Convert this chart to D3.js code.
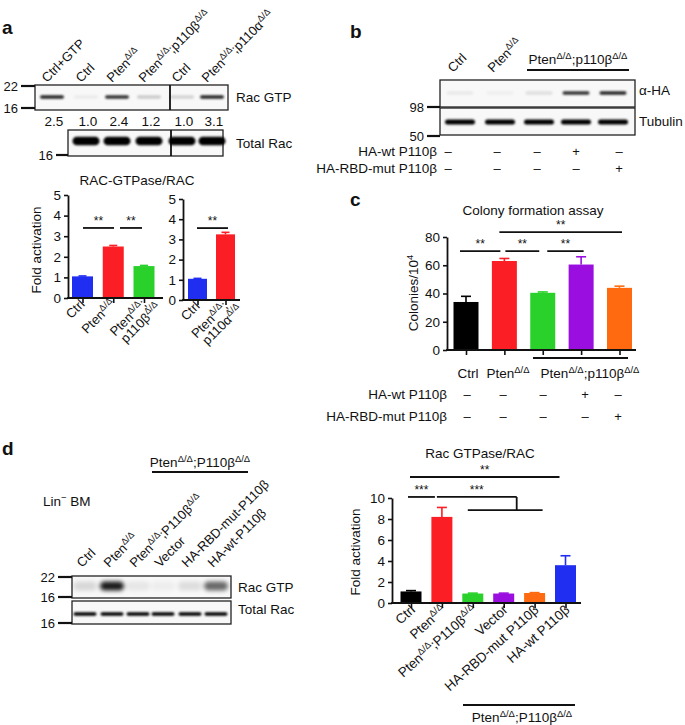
<!DOCTYPE html>
<html><head><meta charset="utf-8">
<script src="https://cdn.jsdelivr.net/npm/d3@7"></script>
<style>
body{margin:0;background:#fff}
svg{display:block}
text{font-family:"Liberation Sans",Arial,Helvetica,sans-serif;fill:#111}
</style>
</head><body>
<svg id="fig" width="685" height="725"></svg>
<script>
// ---------------- DATA ----------------
// Panel a – blot
const aBlotLanes = ["Ctrl+GTP","Ctrl","Pten^{Δ/Δ}","Pten^{Δ/Δ};p110β^{Δ/Δ}","Ctrl","Pten^{Δ/Δ};p110α^{Δ/Δ}"];
const aRacGTP = [0.85,0.05,0.8,0.18,0.15,0.85];
const aRatios = ["2.5","1.0","2.4","1.2","1.0","3.1"];
const aTotalRac = [0,1,1,1,1,1];
// Panel a – bar charts
const aCats1 = ["Ctrl","Pten^{Δ/Δ}","Pten^{Δ/Δ};|p110β^{Δ/Δ}"];
const aVals1 = [1.05,2.5,1.55];
const aErr1 = [0.02,0.05,0.03];
const aCats2 = ["Ctrl","Pten^{Δ/Δ};|p110α^{Δ/Δ}"];
const aVals2 = [1.05,3.25];
const aErr2 = [0.02,0.1];
const aTicks = [0,1,2,3,4,5];
// Panel b – blot
const bLanes = ["Ctrl","Pten^{Δ/Δ}"];
const bHA = [0.06,0.04,0.1,0.8,0.85];
const bTubulin = [1,1,1,1,1];
const bWt = ["–","–","–","+","–"];
const bMut = ["–","–","–","–","+"];
// Panel c – colony formation
const cCats = ["Ctrl","Pten","p110b","wt","mut"];
const cVals = [34,63,40.5,60.5,44];
const cErr = [4,1.8,0.6,5.5,1.2];
const cTicks = [0,20,40,60,80];
const cWt = ["–","–","–","+","–"];
const cMut = ["–","–","–","–","+"];
const cSig = [[0,1,70,"**"],[1,2,70,"**"],[2,3,70,"**"],[1,4,83.5,"**"]];
// Panel d – blot
const dLanes = ["Ctrl","Pten^{Δ/Δ}","Pten^{Δ/Δ};P110β^{Δ/Δ}","Vector","HA-RBD-mut-P110β","HA-wt-P110β"];
const dRacGTP = [0.15,1,0.08,0.05,0.12,0.65];
const dTotalRac = [1,1,1,1,1,1];
// Panel d – bar chart
const dCats = ["Ctrl","Pten^{Δ/Δ}","Pten^{Δ/Δ};P110β^{Δ/Δ}","Vector","HA-RBD-mut P110β","HA-wt P110β"];
const dVals = [1.1,8.2,0.9,0.9,0.95,3.6];
const dErr = [0.08,0.9,0.04,0.04,0.04,0.9];
const dTicks = [0,2,4,6,8,10];

const COL = {blue:"#1f2ef0",red:"#fb1e24",green:"#2bd12b",purple:"#9a0fe0",orange:"#ff6a10",black:"#000"};
const aCol1 = [COL.blue,COL.red,COL.green];
const aCol2 = [COL.blue,COL.red];
const cCol = [COL.black,COL.red,COL.green,COL.purple,COL.orange];
const dCol = [COL.black,COL.red,COL.green,COL.purple,COL.orange,COL.blue];

// ---------------- HELPERS ----------------
const svg = d3.select("#fig");
const defs = svg.append("defs");
defs.append("filter").attr("id","blur").attr("x","-50%").attr("y","-100%").attr("width","200%").attr("height","300%")
  .append("feGaussianBlur").attr("stdDeviation",1.1);
defs.append("filter").attr("id","blur2").attr("x","-50%").attr("y","-100%").attr("width","200%").attr("height","300%")
  .append("feGaussianBlur").attr("stdDeviation",2.2);

function rich(parent, x, y, str, o={}) {
  const size = o.size||13, anchor = o.anchor||"start", rot = o.rotate||0;
  const g = parent.append("g").attr("transform",`translate(${x},${y}) rotate(${rot})`);
  const lines = str.split("|");
  lines.forEach((ln,li)=>{
    const t = g.append("text").attr("x",(o.lineDx||0)*li).attr("y",li*(o.lh||size*1.05))
      .attr("text-anchor",anchor).attr("font-size",size).attr("font-weight",o.weight||"normal");
    const parts = ln.split(/(\^\{[^}]*\})/).filter(s=>s.length);
    let sup=false; const sh=size*0.38;
    parts.forEach(p=>{
      if(p.startsWith("^{")){
        t.append("tspan").attr("font-size",size*0.7).attr("dy",-sh).text(p.slice(2,-1));
        sup=true;
      } else {
        t.append("tspan").attr("dy",sup?sh:0).text(p); sup=false;
      }
    });
  });
  return g;
}
function line(p,x1,y1,x2,y2,w=1.6){
  p.append("line").attr("x1",x1).attr("y1",y1).attr("x2",x2).attr("y2",y2)
   .attr("stroke","#111").attr("stroke-width",w);
}
function panelLetter(x,y,s){ svg.append("text").attr("x",x).attr("y",y).attr("font-size",19).attr("font-weight","bold").text(s); }

function blotBox(x0,x1,y0,y1,dividers=[]){
  svg.append("rect").attr("x",x0).attr("y",y0).attr("width",x1-x0).attr("height",y1-y0)
    .attr("fill","#f8f8f8").attr("stroke","#222").attr("stroke-width",1.3);
  dividers.forEach(d=>line(svg,d,y0,d,y1,1.8));
}
function bands(xs, vals, yc, w, h, filt="blur"){
  svg.append("g").attr("filter",`url(#${filt})`).selectAll("rect").data(vals).join("rect")
    .attr("x",(d,i)=>xs[i]-w/2).attr("y",yc-h/2).attr("width",w).attr("height",h).attr("rx",h/2)
    .attr("fill","#000").attr("opacity",d=>d);
}
function marker(label,xr,xl,y){
  line(svg,xl,y,xr,y,2.2);
  svg.append("text").attr("x",xl-3).attr("y",y+4.5).attr("text-anchor","end").attr("font-size",13).text(label);
}

function barChart(o){
  const g = svg.append("g");
  const y = d3.scaleLinear().domain([o.ticks[0],o.ticks[o.ticks.length-1]]).range([o.y0,o.y1]);
  const x = d3.scalePoint().domain(d3.range(o.vals.length)).range([o.c0,o.c1]);
  g.selectAll("rect.bar").data(o.vals).join("rect").attr("class","bar")
    .attr("x",(d,i)=>x(i)-o.bw/2).attr("y",d=>y(d)).attr("width",o.bw).attr("height",d=>y(0)-y(d))
    .attr("fill",(d,i)=>o.colors[i]);
  o.vals.forEach((v,i)=>{
    const e=o.err[i]; if(!e) return;
    g.append("line").attr("x1",x(i)).attr("x2",x(i)).attr("y1",y(v)).attr("y2",y(v+e)).attr("stroke",o.colors[i]).attr("stroke-width",1.6);
    g.append("line").attr("x1",x(i)-o.cap).attr("x2",x(i)+o.cap).attr("y1",y(v+e)).attr("y2",y(v+e)).attr("stroke",o.colors[i]).attr("stroke-width",1.6);
  });
  const ya = g.append("g").attr("transform",`translate(${o.ax},0)`)
    .call(d3.axisLeft(y).tickValues(o.ticks).tickFormat(d3.format("d")).tickSize(4).tickSizeOuter(0).tickPadding(3));
  ya.select(".domain").attr("stroke-width",1.8).attr("stroke","#111");
  ya.selectAll(".tick line").attr("stroke-width",1.6).attr("stroke","#111");
  ya.selectAll(".tick text").attr("font-size",o.fs||13.5).attr("font-family","Liberation Sans, Arial").attr("fill","#111");
  line(g,o.ax-0.9,y(0),o.axEnd,y(0),1.8);
  const xa = g.append("g").attr("transform",`translate(0,${y(0)})`)
    .call(d3.axisBottom(x).tickSize(5).tickFormat(""));
  xa.select(".domain").remove();
  xa.selectAll(".tick line").attr("stroke-width",1.6).attr("stroke","#111");
  return {x,y,g};
}
function sigBar(g,x0,x1,yy,label,fs=12){
  line(g,x0,yy,x1,yy,1.8);
  g.append("text").attr("x",(x0+x1)/2).attr("y",yy-3).attr("text-anchor","middle").attr("font-size",fs).text(label);
}

// ---------------- PANEL a ----------------
panelLetter(2,34,"a");
const aLaneX = [52,86,117,149,182,212];
aBlotLanes.forEach((s,i)=>rich(svg,aLaneX[i]-5,83,s,{rotate:-45,size:13}));
blotBox(35,228,85,110,[170]);
bands(aLaneX, aRacGTP, 97, 24, 3.6);
marker("22",35,21,86);
marker("16",35,21,108);
svg.append("text").attr("x",236).attr("y",102).attr("font-size",13.5).text("Rac GTP");
svg.selectAll("text.ratio").data(aRatios).join("text").attr("class","ratio")
  .attr("x",(d,i)=>aLaneX[i]+2).attr("y",126).attr("text-anchor","middle").attr("font-size",13.5).text(d=>d);
blotBox(68,223,130,156,[171]);
bands(aLaneX.slice(1), aTotalRac.slice(1), 141, 27, 8.5);
marker("16",68,56,155);
svg.append("text").attr("x",236).attr("y",148).attr("font-size",13.5).text("Total Rac");

svg.append("text").attr("x",137).attr("y",185).attr("text-anchor","middle").attr("font-size",13.5).text("RAC-GTPase/RAC");
rich(svg,41,250,"Fold activation",{rotate:-90,anchor:"middle",size:13.5});
const A1 = barChart({vals:aVals1,err:aErr1,colors:aCol1,ticks:aTicks,y0:298,y1:195,c0:82.5,c1:144,bw:21,cap:4,ax:68,axEnd:163});
sigBar(A1.g,83,114,A1.y(3.4),"**");
sigBar(A1.g,120,142,A1.y(3.4),"**");
aCats1.forEach((s,i)=>rich(svg,A1.x(i)+3,305,s,{rotate:-45,anchor:"end",size:13,lh:12.5,lineDx:8}));
const A2 = barChart({vals:aVals2,err:aErr2,colors:aCol2,ticks:aTicks,y0:300,y1:199,c0:197.5,c1:225.5,bw:19,cap:4,ax:183,axEnd:240});
sigBar(A2.g,197,228,A2.y(3.56),"**");
aCats2.forEach((s,i)=>rich(svg,A2.x(i)+3,307,s,{rotate:-45,anchor:"end",size:13,lh:12.5,lineDx:8}));

// ---------------- PANEL b ----------------
panelLetter(350,38,"b");
const bLaneX = [460,500,539,576,613];
bLanes.forEach((s,i)=>rich(svg,bLaneX[i]-7,73,s,{rotate:-45,size:13}));
rich(svg,578,64,"Pten^{Δ/Δ};p110β^{Δ/Δ}",{anchor:"middle",size:13.5});
line(svg,527,70,629,70,2.2);
blotBox(440,635,80,107);
bands(bLaneX, bHA, 93, 27, 3.4);
blotBox(440,635,108,135);
bands(bLaneX, bTubulin, 122, 30, 5);
marker("98",440,427,107);
marker("50",440,427,136);
svg.append("text").attr("x",639).attr("y",95).attr("font-size",13.5).text("α-HA");
svg.append("text").attr("x",639).attr("y",126).attr("font-size",13.5).text("Tubulin");
const bSignX = [448,497,537,576,619];
svg.append("text").attr("x",437).attr("y",156).attr("text-anchor","end").attr("font-size",13.5).text("HA-wt P110β");
svg.append("text").attr("x",437).attr("y",173).attr("text-anchor","end").attr("font-size",13.5).text("HA-RBD-mut P110β");
bWt.forEach((s,i)=>svg.append("text").attr("x",bSignX[i]).attr("y",156).attr("text-anchor","middle").attr("font-size",13).text(s));
bMut.forEach((s,i)=>svg.append("text").attr("x",bSignX[i]).attr("y",173).attr("text-anchor","middle").attr("font-size",13).text(s));

// ---------------- PANEL c ----------------
panelLetter(350,206,"c");
svg.append("text").attr("x",533).attr("y",215).attr("text-anchor","middle").attr("font-size",13.5).text("Colony formation assay");
rich(svg,418,293,"Colonies/10^{4}",{rotate:-90,anchor:"middle",size:13.5});
const C = barChart({vals:cVals,err:cErr,colors:cCol,ticks:cTicks,y0:350,y1:237,c0:466,c1:619.5,bw:25,cap:5,ax:447,axEnd:636});
const cOff = [[-6,-4],[1,-3.5],[4.5,2.5],[-5,2.5]];
cSig.forEach((s,k)=>sigBar(C.g,C.x(s[0])+cOff[k][0],C.x(s[1])+cOff[k][1],C.y(s[2]),s[3]));
line(svg,533,358,628,358,2);
svg.append("text").attr("x",468).attr("y",378).attr("text-anchor","middle").attr("font-size",13.5).text("Ctrl");
rich(svg,508,378,"Pten^{Δ/Δ}",{anchor:"middle",size:13.5});
rich(svg,590,378,"Pten^{Δ/Δ};p110β^{Δ/Δ}",{anchor:"middle",size:13.5});
const cSignX = [467,503,543,585,618];
svg.append("text").attr("x",447).attr("y",399).attr("text-anchor","end").attr("font-size",13.5).text("HA-wt P110β");
svg.append("text").attr("x",447).attr("y",421).attr("text-anchor","end").attr("font-size",13.5).text("HA-RBD-mut P110β");
cWt.forEach((s,i)=>svg.append("text").attr("x",cSignX[i]).attr("y",399).attr("text-anchor","middle").attr("font-size",13).text(s));
cMut.forEach((s,i)=>svg.append("text").attr("x",cSignX[i]).attr("y",421).attr("text-anchor","middle").attr("font-size",13).text(s));

// ---------------- PANEL d (blot) ----------------
panelLetter(2,455,"d");
rich(svg,200,467,"Pten^{Δ/Δ};P110β^{Δ/Δ}",{anchor:"middle",size:13.5});
line(svg,152,472,248,472,2.2);
rich(svg,43,506,"Lin^{−} BM",{size:13.5});
const dLaneX = [85,112,138,163,190,216];
dLanes.forEach((s,i)=>rich(svg,dLaneX[i]-3,568,s,{rotate:-45,size:13}));
blotBox(72,231,576,598);
bands(dLaneX, dRacGTP.map(v=>v*0.9), 586, 24, 9, "blur2");
blotBox(72,231,601,624);
bands(dLaneX, dTotalRac, 614, 23, 3.6);
marker("22",72,58,577);
marker("16",72,58,597);
marker("16",72,58,623);
svg.append("text").attr("x",238).attr("y",592).attr("font-size",13.5).text("Rac GTP");
svg.append("text").attr("x",238).attr("y",614).attr("font-size",13.5).text("Total Rac");

// ---------------- PANEL d (chart) ----------------
svg.append("text").attr("x",480).attr("y",458).attr("text-anchor","middle").attr("font-size",13.5).text("Rac GTPase/RAC");
rich(svg,360,552,"Fold activation",{rotate:-90,anchor:"middle",size:13.5});
const D = barChart({vals:dVals,err:dErr,colors:dCol,ticks:dTicks,y0:603,y1:498,c0:411,c1:565.5,bw:21,cap:5,ax:392,axEnd:581});
sigBar(D.g,D.x(0)-1,D.x(5)-6,D.y(12.0),"**");
sigBar(D.g,D.x(0)-3,D.x(1)-7,D.y(10.1),"***");
line(D.g,D.x(1)-5,D.y(10.1),D.x(3)+13,D.y(10.1),1.8);
line(D.g,D.x(3)+13,D.y(10.1),D.x(3)+13,D.y(8.85),1.8);
line(D.g,D.x(2)-5,D.y(8.85),D.x(4)+8,D.y(8.85),1.8);
D.g.append("text").attr("x",D.x(2)+4).attr("y",D.y(10.1)-3).attr("text-anchor","middle").attr("font-size",12).text("***");
dCats.forEach((s,i)=>rich(svg,D.x(i)+5,611,s,{rotate:-42,anchor:"end",size:13.5}));
line(svg,463,705,575,705,2);
rich(svg,522,722,"Pten^{Δ/Δ};P110β^{Δ/Δ}",{anchor:"middle",size:13.5});
</script>
</body></html>
